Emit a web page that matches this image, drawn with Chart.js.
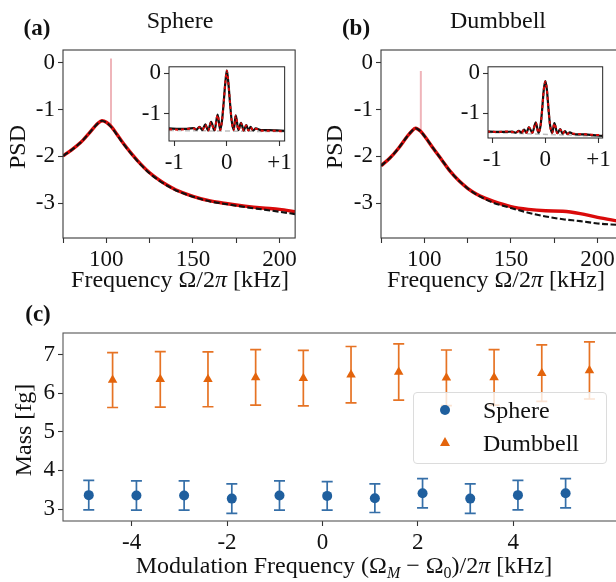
<html>
<head>
<script src="https://cdn.jsdelivr.net/npm/chart.js"></script>
<style>
body { margin:0; width:616px; height:582px; overflow:hidden; position:relative; background:#fff; font-family:"Liberation Serif", serif; color:#111; }
canvas { position:absolute; }
.t { position:absolute; transform:translate(-50%,-50%); white-space:nowrap; font-size:24px; line-height:1; }
.v { transform:translate(-50%,-50%) rotate(-90deg); }
.b { font-weight:bold; font-size:23px; }
#legend { position:absolute; left:413px; top:392px; width:192px; height:70px; background:rgba(255,255,255,0.8); border:1px solid #dcdcdc; border-radius:4px; }
#legend .row { position:absolute; left:0; font-size:24px; line-height:1; }
#legend .dot { position:absolute; width:10px; height:10px; border-radius:50%; background:#1f5f9e; }
#legend .tri { position:absolute; width:0; height:0; border-left:5px solid transparent; border-right:5px solid transparent; border-bottom:9px solid #e3640c; }
</style>
</head>
<body>
<canvas id="psdA" width="300" height="275" style="left:0;top:0"></canvas>
<canvas id="insetA" width="175" height="125" style="left:120px;top:50px"></canvas>
<canvas id="psdB" width="303" height="275" style="left:318px;top:0"></canvas>
<canvas id="insetB" width="175" height="125" style="left:439px;top:50px"></canvas>
<canvas id="mass" width="625" height="255" style="left:0;top:300px"></canvas>

<div class="t b" style="left:37px;top:27px">(a)</div>
<div class="t" style="left:180px;top:20px">Sphere</div>
<div class="t v" style="left:17px;top:147px">PSD</div>
<div class="t" style="left:180px;top:279px">Frequency Ω/2<i>π</i> [kHz]</div>

<div class="t b" style="left:356px;top:27px">(b)</div>
<div class="t" style="left:498px;top:20px">Dumbbell</div>
<div class="t v" style="left:334px;top:147px">PSD</div>
<div class="t" style="left:496px;top:279px">Frequency Ω/2<i>π</i> [kHz]</div>

<div class="t b" style="left:38px;top:313px">(c)</div>
<div class="t v" style="left:23px;top:430px">Mass [fg]</div>
<div class="t" style="left:344px;top:567px">Modulation Frequency (Ω<sub style="font-size:16px"><i>M</i></sub> − Ω<sub style="font-size:16px">0</sub>)/2<i>π</i> [kHz]</div>

<div id="legend">
  <div class="dot" style="left:26px;top:12px"></div>
  <div class="row" style="left:69px;top:5px">Sphere</div>
  <div class="tri" style="left:26px;top:44px"></div>
  <div class="row" style="left:69px;top:38px">Dumbbell</div>
</div>

<script>
// (a) sphere spectrum, log10 PSD vs frequency [kHz]
freqA = [75, 80, 85, 90, 95, 97.5, 100, 103, 106, 110, 115, 120, 125, 130, 135, 140, 150, 160, 170, 180, 190, 200, 209]
dataA = [-1.99, -1.86, -1.71, -1.51, -1.30, -1.24, -1.27, -1.37, -1.52, -1.73, -1.96, -2.17, -2.35, -2.49, -2.61, -2.71, -2.85, -2.95, -3.01, -3.06, -3.10, -3.13, -3.18]
fitA  = [-1.99, -1.86, -1.71, -1.51, -1.30, -1.24, -1.28, -1.38, -1.53, -1.74, -1.97, -2.18, -2.36, -2.50, -2.62, -2.72, -2.86, -2.96, -3.02, -3.08, -3.13, -3.18, -3.23]
spikeA = {x: 102.7, top: 0.09, bottom: -1.36}

// (b) dumbbell spectrum
freqB = [75, 80, 85, 90, 93, 95, 98, 100, 105, 110, 115, 120, 125, 130, 135, 140, 150, 160, 170, 180, 190, 200, 212]
dataB = [-2.20, -2.04, -1.83, -1.58, -1.45, -1.40, -1.47, -1.56, -1.82, -2.07, -2.32, -2.52, -2.68, -2.80, -2.89, -2.96, -3.07, -3.13, -3.16, -3.17, -3.22, -3.30, -3.38]
fitB  = [-2.20, -2.04, -1.83, -1.58, -1.45, -1.40, -1.47, -1.56, -1.82, -2.07, -2.32, -2.52, -2.68, -2.81, -2.91, -2.99, -3.10, -3.20, -3.28, -3.34, -3.38, -3.43, -3.46]
spikeB = {x: 98.0, top: -0.18, bottom: -1.47}

// insets: detuning [kHz] around the drive
detA    = [-1.1, -0.9, -0.75, -0.63, -0.575, -0.52, -0.465, -0.41, -0.355, -0.30, -0.235, -0.175, -0.125, -0.09, -0.06, -0.03, 0, 0.03, 0.06, 0.09, 0.13, 0.17, 0.22, 0.27, 0.32, 0.37, 0.41, 0.45, 0.50, 0.55, 0.65, 0.8, 0.95, 1.1]
insetFitA  = [-1.36, -1.37, -1.37, -1.35, -1.39, -1.32, -1.40, -1.26, -1.41, -1.20, -1.41, -1.02, -1.40, -1.15, -0.72, -0.25, 0.07, -0.25, -0.72, -1.15, -1.40, -1.04, -1.40, -1.22, -1.41, -1.28, -1.41, -1.32, -1.41, -1.36, -1.40, -1.40, -1.41, -1.42]
insetDataA = [-1.38, -1.39, -1.37, -1.36, -1.39, -1.33, -1.40, -1.27, -1.41, -1.21, -1.41, -1.03, -1.40, -1.15, -0.72, -0.25, 0.06, -0.25, -0.72, -1.15, -1.40, -1.05, -1.40, -1.23, -1.41, -1.29, -1.41, -1.33, -1.41, -1.37, -1.41, -1.42, -1.42, -1.44]
baseA = [-1.41, -1.44]

detB    = [-1.1, -0.9, -0.75, -0.62, -0.56, -0.50, -0.45, -0.40, -0.355, -0.31, -0.245, -0.18, -0.13, -0.09, -0.06, -0.03, 0, 0.03, 0.06, 0.09, 0.13, 0.17, 0.225, 0.28, 0.325, 0.37, 0.415, 0.46, 0.52, 0.6, 0.75, 0.9, 1.1]
insetFitB  = [-1.45, -1.46, -1.46, -1.45, -1.48, -1.43, -1.48, -1.40, -1.48, -1.34, -1.48, -1.22, -1.48, -1.30, -0.90, -0.42, -0.20, -0.42, -0.90, -1.30, -1.48, -1.24, -1.49, -1.39, -1.50, -1.44, -1.51, -1.47, -1.51, -1.52, -1.52, -1.54, -1.56]
insetDataB = [-1.45, -1.46, -1.45, -1.46, -1.48, -1.44, -1.48, -1.41, -1.48, -1.35, -1.48, -1.23, -1.48, -1.30, -0.90, -0.42, -0.21, -0.42, -0.90, -1.30, -1.48, -1.25, -1.49, -1.40, -1.50, -1.44, -1.51, -1.48, -1.50, -1.51, -1.52, -1.53, -1.54]
baseB = [-1.47, -1.57]

// (c) mass vs modulation frequency offset [kHz]
sphereX    = [-4.9, -3.9, -2.9, -1.9, -0.9, 0.1, 1.1, 2.1, 3.1, 4.1, 5.1]
sphereMass = [3.36, 3.35, 3.35, 3.27, 3.35, 3.34, 3.28, 3.41, 3.27, 3.36, 3.41]
sphereErr  = [0.38, 0.38, 0.38, 0.38, 0.38, 0.37, 0.37, 0.38, 0.38, 0.38, 0.38]
dumbX    = [-4.4, -3.4, -2.4, -1.4, -0.4, 0.6, 1.6, 2.6, 3.6, 4.6, 5.6]
dumbMass = [6.34, 6.36, 6.36, 6.41, 6.39, 6.48, 6.55, 6.40, 6.41, 6.52, 6.59]
dumbErr  = [0.71, 0.72, 0.71, 0.72, 0.72, 0.73, 0.73, 0.72, 0.72, 0.73, 0.74]

psdTicks = [0, -1, -2, -3]
freqTicks = [75, 100, 125, 150, 175, 200]
freqLabels = [100, 150, 200]
insetYTicks = [0, -1]
insetXTicks = [-1, 0, 1]
massTicks = [3, 4, 5, 6, 7]
modTicks = [-4, -2, 0, 2, 4]

const BLUE = '#1f5f9e', ORANGE = '#e3640c', RED = 'rgb(218,10,10)'
const tickFont = { family: 'Liberation Serif', size: 23 }

// box around the plot area, optional white fill for the insets
const frame = {
  id: 'frame',
  beforeDatasetsDraw(chart, args, o) {
    if (!o.fill) return
    const a = chart.chartArea, ctx = chart.ctx
    ctx.save(); ctx.fillStyle = o.fill
    ctx.fillRect(a.left, a.top, a.right - a.left, a.bottom - a.top)
    ctx.restore()
  },
  afterDraw(chart, args, o) {
    const a = chart.chartArea, ctx = chart.ctx
    ctx.save(); ctx.strokeStyle = o.color || '#333'; ctx.lineWidth = o.width || 1.1
    ctx.strokeRect(a.left, a.top, a.right - a.left, a.bottom - a.top)
    ctx.restore()
  }
}

// vertical error bars with caps, taken from dataset.errors
const errorBars = {
  id: 'errorBars',
  beforeDatasetsDraw(chart) {
    const ctx = chart.ctx, xs = chart.scales.x, ys = chart.scales.y
    chart.data.datasets.forEach(ds => {
      if (!ds.errors) return
      ctx.save(); ctx.strokeStyle = ds.backgroundColor; ctx.globalAlpha = 0.9; ctx.lineWidth = 1.7
      ds.data.forEach((p, i) => {
        const x = xs.getPixelForValue(p.x)
        const y1 = ys.getPixelForValue(p.y + ds.errors[i]), y2 = ys.getPixelForValue(p.y - ds.errors[i])
        ctx.beginPath()
        ctx.moveTo(x, y1); ctx.lineTo(x, y2)
        ctx.moveTo(x - 5.5, y1); ctx.lineTo(x + 5.5, y1)
        ctx.moveTo(x - 5.5, y2); ctx.lineTo(x + 5.5, y2)
        ctx.stroke()
      })
      ctx.restore()
    })
  }
}

function axis(min, max, ticks, size, label, horizontal) {
  return {
    type: 'linear', min, max,
    afterBuildTicks: s => { s.ticks = ticks.map(v => ({ value: v })) },
    afterFit: s => { if (horizontal) s.height = size; else s.width = size },
    grid: { drawOnChartArea: false, drawTicks: true, tickLength: 5, tickColor: '#333', tickWidth: 1.1 },
    border: { display: false },
    ticks: { font: tickFont, color: '#111', padding: 3, maxRotation: 0, autoSkip: false, callback: label }
  }
}

const plain = v => String(v)
const freqLabel = v => freqLabels.includes(v) ? String(v) : ''
const signed = v => v > 0 ? '+' + v : String(v)

function pts(xs, ys) { return xs.map((x, i) => ({ x, y: ys[i] })) }

// first dataset ends up on top, so: fit, then data, then the drive spike
function psdChart(id, freq, data, fit, spike, xmax, padRight) {
  return new Chart(document.getElementById(id), {
    type: 'line',
    data: { datasets: [
      { data: pts(freq, fit), borderColor: '#111', borderWidth: 2.1, borderDash: [6, 2.5], cubicInterpolationMode: 'monotone' },
      { data: pts(freq, data), borderColor: RED, borderWidth: 3.4, cubicInterpolationMode: 'monotone' },
      { data: [{ x: spike.x, y: spike.top }, { x: spike.x, y: spike.bottom }], borderColor: 'rgba(226,120,130,0.55)', borderWidth: 2 }
    ] },
    options: {
      responsive: false, animation: false, events: [],
      elements: { point: { radius: 0 } },
      layout: { padding: { top: 50, right: padRight, left: 0, bottom: 0 } },
      plugins: { legend: { display: false }, tooltip: { enabled: false }, frame: { color: '#3a3a3a' } },
      scales: {
        x: axis(75, xmax, freqTicks, 37, freqLabel, true),
        y: axis(-3.74, 0.27, psdTicks, 63, plain, false)
      }
    },
    plugins: [frame]
  })
}

function insetChart(id, det, data, fit, base, ymin, ymax, xmin, xmax, pad) {
  return new Chart(document.getElementById(id), {
    type: 'line',
    data: { datasets: [
      { data: pts(det, data), borderColor: RED, borderWidth: 2, borderDash: [3, 3], cubicInterpolationMode: 'monotone' },
      { data: pts(det, fit), borderColor: '#111', borderWidth: 2.2, cubicInterpolationMode: 'monotone' },
      { data: [{ x: det[0], y: base[0] }, { x: det[det.length - 1], y: base[1] }], borderColor: '#bdbdbd', borderWidth: 1.5, borderDash: [5, 3] }
    ] },
    options: {
      responsive: false, animation: false, events: [],
      elements: { point: { radius: 0 } },
      layout: { padding: { top: pad.top, right: pad.right, left: 0, bottom: 0 } },
      plugins: { legend: { display: false }, tooltip: { enabled: false }, frame: { color: '#222', width: 1, fill: '#fff' } },
      scales: {
        x: axis(xmin, xmax, insetXTicks, pad.bottom, signed, true),
        y: axis(ymin, ymax, insetYTicks, 49, plain, false)
      }
    },
    plugins: [frame]
  })
}

psdChart('psdA', freqA, dataA, fitA, spikeA, 209, 3)
psdChart('psdB', freqB, dataB, fitB, spikeB, 211.8, 3)
insetChart('insetA', detA, insetDataA, insetFitA, baseA, -1.67, 0.16, -1.1, 1.1, { top: 5, right: 8, bottom: 34 })
insetChart('insetB', detB, insetDataB, insetFitB, baseB, -1.61, 0.157, -1.08, 1.08, { top: 6, right: 9, bottom: 37 })

new Chart(document.getElementById('mass'), {
  type: 'scatter',
  data: { datasets: [
    { label: 'Sphere', data: pts(sphereX, sphereMass), errors: sphereErr, backgroundColor: BLUE, borderWidth: 0, pointStyle: 'circle', pointRadius: 5 },
    { label: 'Dumbbell', data: pts(dumbX, dumbMass), errors: dumbErr, backgroundColor: ORANGE, borderWidth: 0, pointStyle: 'triangle', pointRadius: 5.5 }
  ] },
  options: {
    responsive: false, animation: false, events: [],
    layout: { padding: { top: 33, right: 3, left: 0, bottom: 0 } },
    plugins: { legend: { display: false }, tooltip: { enabled: false }, frame: { color: '#555' } },
    scales: {
      x: axis(-5.44, 6.23, modTicks, 34, plain, true),
      y: axis(2.69, 7.56, massTicks, 63, plain, false)
    }
  },
  plugins: [frame, errorBars]
})
</script>
</body>
</html>
